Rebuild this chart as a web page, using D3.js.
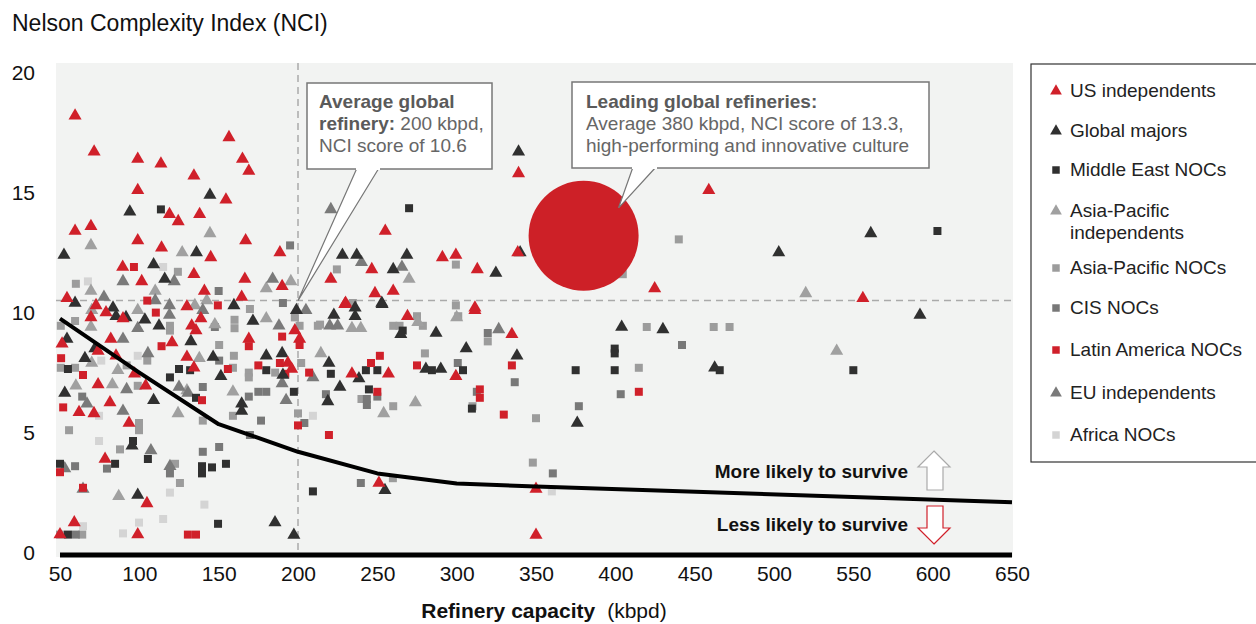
<!DOCTYPE html>
<html lang="en">
<head>
  <meta charset="UTF-8">
  <title>Refinery capacity vs NCI</title>
  <script src="https://d3js.org/d3.v7.min.js"></script>
  <style>
    body { margin: 0; background: #fff; }
    text { font-family: "Liberation Sans", Arial, sans-serif; }
  </style>
</head>
<body>

  <script>
    ((window, document) => {
      "use strict";

      /**
       * -----------------------------------------------------------------------
       *  Data  ([capacity kbpd, NCI])
       * -----------------------------------------------------------------------
       */

      const xTicks = [50, 100, 150, 200, 250, 300, 350, 400, 450, 500, 550, 600, 650];
      const yTicks = [0, 5, 10, 15, 20];

      const usIndependents = [
        [59.5,18.3],[71.5,16.8],[99,16.5],[113.6,16.3],[156.5,17.4],[165,16.5],[169,16.0],[134.4,15.8],[99,15.2],[154.6,14.8],
        [119,14.2],[124.5,13.9],[138,14.2],[59.5,13.5],[69.5,13.7],[99,13.1],[167,13.1],[114,12.8],[145,12.4],[188.6,12.6],
        [89.5,12.0],[134.4,11.7],[101.5,11.4],[166.5,11.5],[190,11.2],[54.4,10.7],[141,11.0],[164.5,10.75],
        [339,15.9],[255,13.5],[246.5,11.9],[291,12.4],[299.5,12.5],[313,11.9],[338.5,12.6],[220.7,11.5],[248.5,10.9],[260,11.0],
        [230,10.5],[311.5,10.3],[229.5,10.45],[269,9.95],[311.5,10.2],[334.8,9.2],[234,7.55],[257,7.55],[299.5,7.45],[251,3.0],
        [350,2.75],[350,0.83],[458.9,15.2],[424.8,11.1],[556,10.7],
        [72.7,10.4],[79,10.1],[69.5,9.9],[89.7,9.85],[120.6,8.85],[51.3,8.8],[82,9.0],[74,8.5],[85.3,8.3],[97,7.55],[74,7.1],
        [104,7.05],[81.5,6.35],[62,5.95],[71.4,5.9],[93.5,5.5],[78.4,4.0],[104.8,2.15],[59,1.35],[99,0.85],[50,0.85],
        [169,9.0],[193.6,8.0],[130,10.35],[138.8,9.85],[133,9.55],[130,8.25],[134.4,7.8],[196,7.75],[198,9.35],[201,9.0],[135.7,9.35]
      ];

      const globalMajors = [
        [144.5,15.0],[94,14.3],[52.5,12.5],[136,12.6],[109,12.1],[116,11.5],[59.5,10.5],
        [339,16.8],[228,12.5],[237,12.5],[268.6,12.5],[260,11.9],[324.7,11.75],[340,12.6],[252.8,10.5],
        [199,10.2],[236,10.3],[253,10.45],[222.6,10.0],[236,9.95],[264.8,9.2],[287,9.25],[306,8.6],[338,8.3],[219.5,8.0],
        [280.6,7.75],[290,7.75],[238.4,7.35],[226.4,7.0],[218.8,6.4],[376,5.5],[254.8,2.7],[197.4,0.83],
        [503,12.6],[561,13.4],[592,10.0],[404,9.5],[430,9.4],[462.6,7.8],
        [83.4,10.3],[85.3,9.95],[91.6,9.9],[103.5,9.8],[112.4,9.55],[54.4,9.0],[72,8.6],[65.7,8.2],[53,6.75],[109,6.45],
        [95.4,4.55],[99,2.5],[185.5,1.35],[171.6,9.75],[180,8.3],[190,8.4],[164.5,6.3],[164.5,6.0],[151.4,7.45],[159.6,10.4],
        [132.5,8.9],[146.5,8.25],[190.5,7.5]
      ];

      const middleEastNOCs = [
        [113.6,14.4],[270,14.45],[266,9.35],[284.4,7.7],[304,7.7],[375,7.7],[220.7,7.55],[242.8,7.7],[250,7.7],[197.4,6.8],
        [244.7,6.9],[309.6,6.1],[209.4,2.65],[603,13.5],[399.6,8.6],[399.6,8.4],[399.6,7.7],[465.8,7.7],[550,7.7],
        [55,7.75],[84.7,3.8],[105.4,4.0],[50,3.8],[139.5,3.7],[139.5,3.4],[145.8,3.65],[154.6,3.8],[149.6,1.3],[55,0.85],
        [180,7.7],[135.7,6.55],[119.3,7.4],[125,7.75],[132,7.7],[96,4.75]
      ];

      const apIndependents = [
        [144.5,13.4],[69.5,12.9],[127,12.6],[180,11.1],[195.5,11.4],[69.5,11.0],[110,11.0],[142.5,10.6],
        [270,11.5],[300,9.9],[234,9.45],[239.6,9.45],[275.5,9.7],[214.4,8.4],[274,6.35],[254,5.9],[520,10.9],[539.5,8.5],
        [70,10.2],[99,10.2],[69.5,9.5],[86.5,7.7],[83,7.1],[70,8.0],[60,7.05],[87,2.45],[124.4,5.9],[130,6.85],[159,6.8],
        [180,9.85],[135,10.4],[147.6,9.6],[137.8,8.2]
      ];

      const apNOCs = [
        [60,11.3],[124.3,11.8],[224.5,11.9],[299.5,12.1],[234.6,10.5],[299.5,10.4],[301,9.95],[201,9.55],[212.5,9.55],[213.9,9.6],
        [260,9.55],[264,9.55],[278.7,9.55],[275,9.95],[319.6,8.9],[280,8.4],[240,6.5],[260,6.2],[310,6.2],[200,5.9],[350,5.7],
        [348,3.85],[259.8,3.2],[440,13.15],[404.7,11.7],[419.8,9.5],[462,9.5],[472,9.5],[414.8,7.8],
        [59.5,9.75],[50.5,9.55],[119.3,9.55],[119.3,9.35],[50.5,7.8],[59.5,7.8],[105,8.1],[55.7,5.2],[99.8,5.2],[99.8,5.5],
        [87.8,4.4],[122.5,3.8],[125.6,3.0],[140,5.6],[159,5.8],[185.6,7.6],[160,9.8],[160,9.45],[169.7,10.25],[150.3,8.75],
        [159.6,8.3],[159,7.8],[169,7.6],[169,7.4],[198,9.9],[202,8.0],[92,7.9],[99,7.05],[50,0.85],[64,0.85]
      ];

      const cisNOCs = [
        [195,12.9],[150,11.0],[190.5,10.5],[319.6,9.25],[300.7,8.0],[217.6,6.7],[243.4,6.25],[243.4,6.5],[250,6.6],[312.7,6.8],
        [336.6,7.2],[377,6.2],[204,5.5],[360.6,3.4],[239.6,3.0],[442,8.75],[403.4,6.7],
        [64,6.6],[79.6,3.6],[59.5,3.7],[119.3,3.4],[140,4.3],[150.3,4.5],[60,0.85],[150.3,8.1],[140,7.0],[180,6.8],
        [176.7,5.6],[169.7,5.0],[175,6.8],[169,6.6],[147.6,9.5]
      ];

      const latinAmericaNOCs = [
        [96.6,12.0],[105,10.6],[149.5,10.4],[251.6,8.3],[246,8.0],[275,7.9],[334.8,7.9],[207,7.6],[250,6.8],[314.6,6.9],
        [314.6,6.55],[329.7,5.85],[200,5.4],[219.5,5.0],[414.8,6.8],
        [110.4,10.1],[114,8.7],[50.7,8.2],[64.5,7.5],[52,6.15],[50,3.45],[64.5,2.8],[130.6,0.85],[135.7,0.85],
        [169,8.7],[190,9.1],[175,7.9],[192,7.55],[139.5,6.45],[155.8,7.75],[188.6,8.0],[201,8.75]
      ];

      const euIndependents = [
        [89.7,11.4],[122,11.4],[184,11.5],[77.7,10.75],[110,10.6],[220.7,14.4],[240,12.2],[265.5,12.0],[205,10.2],[220,9.55],
        [225,9.55],[326.5,9.4],[209.4,7.4],[119,10.4],[119,10.0],[99,9.45],[89.7,9.0],[105.4,8.4],[92,6.9],[67,6.3],[89.7,6.0],
        [53,3.6],[119.3,3.7],[107.3,4.35],[140,10.2],[125,7.0],[130.6,6.75],[190,7.15],[192.5,6.45],[188,9.55],[64.5,2.75]
      ];

      const africaNOCs = [
        [115,12.0],[67.6,11.4],[209.4,5.8],[360,2.65],[76,8.1],[99,8.3],[74.6,5.8],[74.6,4.75],[119.3,2.6],[141,2.1],
        [64.5,1.2],[99.8,1.35],[115,1.5],[89.7,0.9]
      ];

      // survival threshold curve
      const thresholdX = [50, 100, 150, 200, 250, 300, 350, 650];
      const thresholdY = [9.85, 7.6, 5.45, 4.3, 3.4, 2.98, 2.85, 2.2];

      // averages
      const avgGlobal = [200, 10.6];
      const avgLeading = [380, 13.3];

      const series = [
        { name: "US independents",          data: usIndependents,   shape: "tri", color: "#d0202a" },
        { name: "Global majors",            data: globalMajors,     shape: "tri", color: "#303030" },
        { name: "Middle East NOCs",         data: middleEastNOCs,   shape: "sq",  color: "#303030" },
        { name: ["Asia-Pacific", "independents"], data: apIndependents, shape: "tri", color: "#a0a0a0" },
        { name: "Asia-Pacific NOCs",        data: apNOCs,           shape: "sq",  color: "#9c9c9c" },
        { name: "CIS NOCs",                 data: cisNOCs,          shape: "sq",  color: "#787878" },
        { name: "Latin America NOCs",       data: latinAmericaNOCs, shape: "sq",  color: "#d0202a" },
        { name: "EU independents",          data: euIndependents,   shape: "tri", color: "#7a7a7a" },
        { name: "Africa NOCs",              data: africaNOCs,       shape: "sq",  color: "#d4d4d4" },
      ];

      // draw order in plot (back to front)
      const drawOrder = [8, 4, 5, 3, 7, 2, 6, 1, 0];


      /**
       * -----------------------------------------------------------------------
       *  Render
       * -----------------------------------------------------------------------
       */

      const W = 1256, H = 624;
      const svg = d3.select("body").append("svg")
        .attr("width", W).attr("height", H);

      const x = d3.scaleLinear().domain([50, 650]).range([60, 1012]);
      const y = d3.scaleLinear().domain([0, 20]).range([555, 75]);

      const triangle = d3.symbol().type(d3.symbolTriangle).size(74);
      const square = d3.symbol().type(d3.symbolSquare).size(64);

      // plot background
      svg.append("rect")
        .attr("x", 56).attr("y", 63)
        .attr("width", 1013 - 56).attr("height", 557 - 63)
        .attr("fill", "#f2f3f2");

      // reference lines
      svg.append("line")
        .attr("x1", x(avgGlobal[0])).attr("x2", x(avgGlobal[0]))
        .attr("y1", 63).attr("y2", 555)
        .attr("stroke", "#aaaaaa").attr("stroke-width", 1.5)
        .attr("stroke-dasharray", "7,5");
      svg.append("line")
        .attr("x1", 56).attr("x2", 1013)
        .attr("y1", y(avgGlobal[1])).attr("y2", y(avgGlobal[1]))
        .attr("stroke", "#aaaaaa").attr("stroke-width", 1.5)
        .attr("stroke-dasharray", "7,5");

      // points
      drawOrder.forEach(si => {
        const s = series[si];
        svg.append("g").selectAll("path")
          .data(s.data)
          .enter().append("path")
            .attr("d", s.shape === "tri" ? triangle : square)
            .attr("transform", d => `translate(${x(d[0])},${y(d[1])})`)
            .attr("fill", s.color);
      });

      // threshold curve
      const curve = d3.line()
        .x((d, i) => x(thresholdX[i]))
        .y(d => y(d));
      svg.append("path")
        .attr("d", curve(thresholdY))
        .attr("fill", "none")
        .attr("stroke", "#000")
        .attr("stroke-width", 4)
        .attr("stroke-linejoin", "round");

      // leading refineries bubble
      svg.append("circle")
        .attr("cx", x(avgLeading[0])).attr("cy", y(avgLeading[1]))
        .attr("r", 55)
        .attr("fill", "#cd2027");

      // x axis baseline
      svg.append("line")
        .attr("x1", x(50)).attr("x2", x(650))
        .attr("y1", y(0)).attr("y2", y(0))
        .attr("stroke", "#000").attr("stroke-width", 5);

      // axes (labels only)
      const xAxis = svg.append("g")
        .attr("transform", `translate(0, 566)`)
        .call(d3.axisBottom(x).tickValues(xTicks).tickSize(0).tickPadding(0));
      xAxis.select(".domain").remove();
      xAxis.selectAll("text")
        .attr("dy", "0.71em")
        .attr("font-size", 21)
        .attr("fill", "#111")
        .style("font-family", "'Liberation Sans', Arial, sans-serif");

      const yAxis = svg.append("g")
        .attr("transform", `translate(35, -2)`)
        .call(d3.axisLeft(y).tickValues(yTicks).tickSize(0).tickPadding(0));
      yAxis.select(".domain").remove();
      yAxis.selectAll("text")
        .attr("font-size", 21)
        .attr("fill", "#111")
        .style("font-family", "'Liberation Sans', Arial, sans-serif");

      // titles
      svg.append("text")
        .attr("x", 12).attr("y", 31)
        .attr("font-size", 23).attr("fill", "#111")
        .text("Nelson Complexity Index (NCI)");

      const xTitle = svg.append("text")
        .attr("x", 544).attr("y", 618)
        .attr("text-anchor", "middle")
        .attr("font-size", 21).attr("fill", "#111");
      xTitle.append("tspan").attr("font-weight", "bold").text("Refinery capacity");
      xTitle.append("tspan").attr("dx", 12).text("(kbpd)");

      // callout: average global refinery
      const tip1 = [x(avgGlobal[0]), y(avgGlobal[1])];
      const c1 = svg.append("g");
      c1.append("rect")
        .attr("x", 307).attr("y", 83).attr("width", 185).attr("height", 86)
        .attr("fill", "#fff").attr("stroke", "#777").attr("stroke-width", 1.5);
      c1.append("path")
        .attr("d", `M357,168 L${tip1[0]},${tip1[1]} L379,168`)
        .attr("fill", "#fff").attr("stroke", "#777").attr("stroke-width", 1.2);
      c1.append("rect")
        .attr("x", 356).attr("y", 166).attr("width", 24).attr("height", 4)
        .attr("fill", "#fff");
      const t1 = c1.append("text").attr("x", 319).attr("y", 108)
        .attr("font-size", 19).attr("fill", "#666");
      t1.append("tspan").attr("x", 319).attr("font-weight", "bold").attr("fill", "#5a5a5a").text("Average global");
      const l2 = t1.append("tspan").attr("x", 319).attr("dy", 22);
      l2.append("tspan").attr("font-weight", "bold").attr("fill", "#5a5a5a").text("refinery:");
      l2.append("tspan").text(" 200 kbpd,");
      t1.append("tspan").attr("x", 319).attr("dy", 22).text("NCI score of 10.6");

      // callout: leading global refineries
      const tip2 = [x(avgLeading[0]) + 35, y(avgLeading[1]) - 28];
      const c2 = svg.append("g");
      c2.append("rect")
        .attr("x", 572).attr("y", 82).attr("width", 357).attr("height", 86)
        .attr("fill", "#fff").attr("stroke", "#777").attr("stroke-width", 1.5);
      c2.append("path")
        .attr("d", `M633,167 L${tip2[0]},${tip2[1]} L656,167`)
        .attr("fill", "#fff").attr("stroke", "#777").attr("stroke-width", 1.2);
      c2.append("rect")
        .attr("x", 632).attr("y", 165).attr("width", 25).attr("height", 4)
        .attr("fill", "#fff");
      const t2 = c2.append("text").attr("x", 586).attr("y", 108)
        .attr("font-size", 19).attr("fill", "#666");
      t2.append("tspan").attr("x", 586).attr("font-weight", "bold").attr("fill", "#5a5a5a").text("Leading global refineries:");
      t2.append("tspan").attr("x", 586).attr("dy", 22).text("Average 380 kbpd, NCI score of 13.3,");
      t2.append("tspan").attr("x", 586).attr("dy", 22).text("high-performing and innovative culture");

      // survival labels + arrows
      svg.append("text")
        .attr("x", 908).attr("y", 478)
        .attr("text-anchor", "end")
        .attr("font-size", 19).attr("font-weight", "bold").attr("fill", "#111")
        .text("More likely to survive");
      svg.append("text")
        .attr("x", 908).attr("y", 531)
        .attr("text-anchor", "end")
        .attr("font-size", 19).attr("font-weight", "bold").attr("fill", "#111")
        .text("Less likely to survive");

      svg.append("path")
        .attr("d", "M934,451 L950,467 L943,467 L943,490 L927,490 L927,467 L918,467 Z")
        .attr("fill", "#fff").attr("stroke", "#aaaaaa").attr("stroke-width", 1.2);
      svg.append("path")
        .attr("d", "M934,544 L950,528 L943,528 L943,506 L927,506 L927,528 L918,528 Z")
        .attr("fill", "#fff").attr("stroke", "#d0202a").attr("stroke-width", 1.2);

      // legend
      const legend = svg.append("g");
      legend.append("rect")
        .attr("x", 1031).attr("y", 64).attr("width", 240).attr("height", 398)
        .attr("fill", "#fff").attr("stroke", "#333").attr("stroke-width", 1.2);

      const legendY = [91, 131, 170, 211, 268, 308, 350, 393, 435];
      series.forEach((s, i) => {
        const g = legend.append("g").attr("transform", `translate(0, ${legendY[i]})`);
        g.append("path")
          .attr("d", s.shape === "tri" ? d3.symbol().type(d3.symbolTriangle).size(60) : d3.symbol().type(d3.symbolSquare).size(56))
          .attr("transform", "translate(1056, 0)")
          .attr("fill", s.color);
        const names = Array.isArray(s.name) ? s.name : [s.name];
        const t = g.append("text")
          .attr("x", 1070).attr("y", 6)
          .attr("font-size", 19).attr("fill", "#222");
        names.forEach((n, j) => {
          t.append("tspan").attr("x", 1070).attr("dy", j ? 22 : 0).text(n);
        });
      });

    })(window, document);
  </script>

</body>
</html>
